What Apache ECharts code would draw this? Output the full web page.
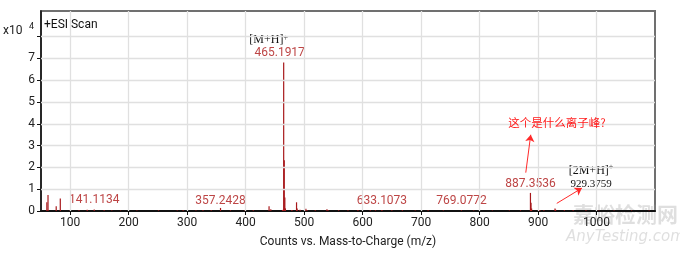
<!DOCTYPE html>
<html><head><meta charset="utf-8">
<script src="https://cdn.jsdelivr.net/npm/echarts@6/dist/echarts.min.js"></script>
<style>html,body{margin:0;padding:0;background:#fff}#c{width:680px;height:253px}</style>
</head><body><div id="c"></div>
<script>
// m/z values of the peaks
const mz = [60,62,76,83,100,115,129,141,158,171,186,214,251,283,293,315,327,341,357,374,398,413,440,443,463,465,466,467,468,479,487,488,493,503,505,519,539,541,559,575,592,613,622,633,650,668,690,712,738,769,790,822,851,870,887,888,889,903,910,929,930,945,960,982,1004,1030,1060,1090];
// intensities (x10^4 counts)
const intensity = [0.40,0.74,0.22,0.57,0.04,0.03,0.06,0.07,0.03,0.02,0.02,0.02,0.03,0.02,0.04,0.02,0.03,0.03,0.14,0.03,0.02,0.03,0.22,0.08,0.05,6.82,2.33,0.62,0.12,0.05,0.40,0.12,0.06,0.10,0.04,0.04,0.08,0.04,0.03,0.03,0.05,0.04,0.03,0.05,0.03,0.03,0.02,0.03,0.02,0.03,0.02,0.02,0.02,0.03,0.83,0.38,0.12,0.05,0.04,0.12,0.06,0.04,0.03,0.03,0.02,0.02,0.02,0.02];
// labelled peaks
const peakLabels = {141:'141.1134',357:'357.2428',465:'465.1917',633:'633.1073',769:'769.0772',887:'887.3536',929:'929.3759'};
const xTicks = [100,200,300,400,500,600,700,800,900,1000];
const yTicks = [0,1,2,3,4,5,6,7,8];
const yLabels = [0,1,2,3,4,5,6,7];
const xTitle = 'Counts vs. Mass-to-Charge (m/z)';
const scanTitle = '+ESI Scan';
const question = '这个是什么离子峰?';

const RED = '#bd4545';
const data = mz.map((m,i)=>{
  const d = {value:[m,intensity[i]]};
  if (peakLabels[m]) {
    if (m===465) {
      d.label = {show:true, position:'top', distance:2, offset:[-4,0],
        formatter:'{b|[M+H]}{s|+}{sp|}\n{r|'+peakLabels[m]+'}',
        rich:{b:{fontFamily:'Liberation Serif',fontSize:12,color:'#111',lineHeight:13},
              s:{fontFamily:'Liberation Serif',fontSize:8,color:'#111',verticalAlign:'top',lineHeight:13},
              sp:{width:22},
              r:{fontFamily:'Roboto',fontSize:12,color:RED,lineHeight:14}}};
    } else if (m===929) {
      d.label = {show:true, position:'top', distance:17, offset:[36,0],
        formatter:'{b|[2M+H]}{s|+}\n{n|'+peakLabels[m]+'}',
        rich:{b:{fontFamily:'Liberation Serif',fontSize:12,color:'#111',lineHeight:14},
              s:{fontFamily:'Liberation Serif',fontSize:8,color:'#111',verticalAlign:'top',lineHeight:14},
              n:{fontFamily:'Liberation Serif',fontSize:11,color:'#111',lineHeight:14}}};
    } else {
      d.label = {show:true, position:'top', distance: m===357?1:3, formatter:peakLabels[m],
        fontFamily:'Roboto', fontSize:12, color:RED};
    }
  }
  return d;
});

const chart = echarts.init(document.getElementById('c'), null, {renderer:'canvas'});
const gridLine = {color:'#e0e0e0', width:1.3, type:'solid'};
chart.setOption({
  animation:false,
  grid:{left:41,right:25,top:11,bottom:41,show:true,borderColor:'#707070',borderWidth:2,backgroundColor:'transparent'},
  xAxis:{type:'value',min:50,max:1100,
    axisLine:{show:true,onZero:false,lineStyle:{color:'#111',width:2}},
    axisTick:{show:true,customValues:xTicks,length:4,lineStyle:{color:'#111'}},
    axisLabel:{customValues:xTicks,formatter:v=>String(v),color:'#222',fontFamily:'Roboto',fontSize:12,margin:6},
    splitLine:{show:false},
    name:xTitle,nameLocation:'middle',nameGap:25,
    nameTextStyle:{color:'#222',fontFamily:'Roboto',fontSize:12}},
  yAxis:{type:'value',min:0,max:9.18,
    axisLine:{show:true,lineStyle:{color:'#111',width:1.5}},
    axisTick:{show:true,customValues:yTicks,length:4,lineStyle:{color:'#111'}},
    axisLabel:{customValues:yLabels,color:'#222',fontFamily:'Roboto',fontSize:12,margin:6},
    splitLine:{show:false}},
  graphic:[
    {type:'text',left:44,top:19,style:{text:scanTitle,font:'12px Roboto',fill:'#111'}},
    {type:'text',left:3,top:25,style:{text:'x10',font:'12px Roboto',fill:'#222'}},
    {type:'text',left:29,top:22,style:{text:'4',font:'9px Roboto',fill:'#222'}},
    {type:'text',left:573,top:204,style:{text:'嘉峪检测网',font:'bold 21px "Noto Sans CJK SC"',fill:'rgba(150,150,150,0.3)'}},
    {type:'text',left:566,top:230,style:{text:'AnyTesting.com',font:'italic 15px "DejaVu Sans"',fill:'rgba(150,150,150,0.3)'}}
  ],
  series:[
    {type:'line',data:[],z:0,silent:true,
      markLine:{silent:true,symbol:'none',label:{show:false},lineStyle:gridLine,
        data:[...xTicks.map(v=>({xAxis:v})),...yTicks.slice(1).map(v=>({yAxis:v}))]}},
    {type:'bar',data:data,barWidth:1.2,barGap:'-100%',itemStyle:{color:'#a8191c'},z:3,
      markLine:{silent:true,symbol:['none','arrow'],symbolSize:7,label:{show:false},
        lineStyle:{color:'#ff2a2a',width:1,type:'solid'},
        data:[[{coord:[879,1.76]},{coord:[887.5,3.5]}],[{coord:[932,0.35]},{coord:[975,1.05]}]]},
      markPoint:{symbol:'circle',symbolSize:0,silent:true,
        data:[{coord:[932.5,4.06],label:{show:true,formatter:question,position:'inside',
          fontFamily:'Noto Sans CJK SC',fontSize:11.5,color:'#ff1a1a'}}]}}
  ]
});
</script></body></html>
